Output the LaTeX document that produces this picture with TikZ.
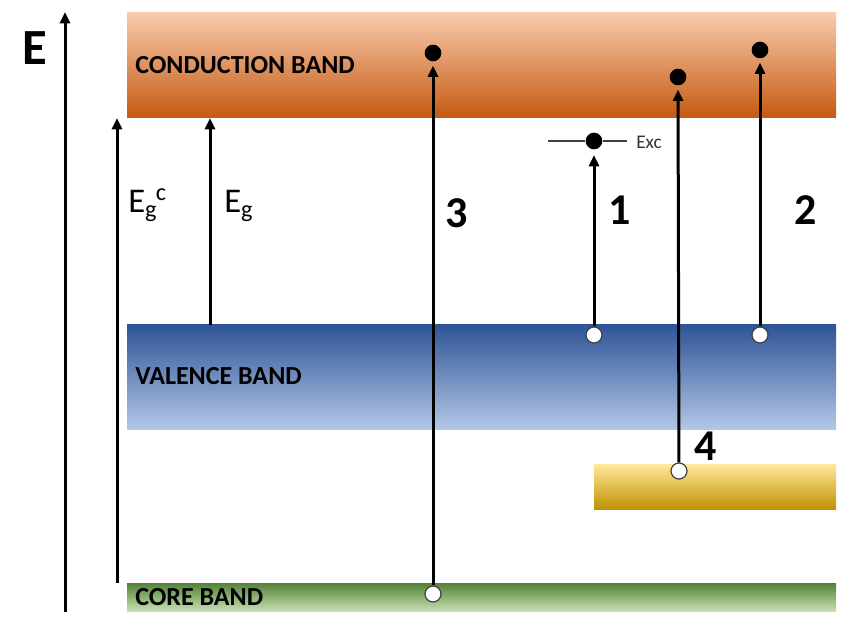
\documentclass[tikz,border=0pt]{standalone}
\usepackage{fontspec}
\setmainfont{Carlito}
\usetikzlibrary{arrows.meta,fit}
\definecolor{cbtop}{HTML}{F8CBAD}
\definecolor{cbmid}{HTML}{F4B183}
\definecolor{cbbot}{HTML}{C55A11}
\definecolor{vbtop}{HTML}{2F5597}
\definecolor{vbmid}{HTML}{8FAADC}
\definecolor{vbbot}{HTML}{B4C7E7}
\definecolor{ybtop}{HTML}{FFE699}
\definecolor{ybmid}{HTML}{FFD966}
\definecolor{ybbot}{HTML}{BF9000}
\definecolor{gbtop}{HTML}{548235}
\definecolor{gbmid}{HTML}{A9D18E}
\definecolor{gbbot}{HTML}{C5E0B4}
\begin{document}
\begin{tikzpicture}[x=0.75pt,y=-0.75pt,
  band/.style={inner sep=0pt, draw=none},
  arr/.style={line width=2.25pt, -{Triangle[width=7.5pt,length=8.5pt]}},
  hole/.style={circle, draw=black!75, line width=0.9pt, fill=white, minimum size=12pt, inner sep=0pt},
  elec/.style={circle, fill=black, minimum size=12.5pt, inner sep=0pt},
  bandlabel/.style={font=\fontsize{19.5}{20}\selectfont\bfseries, anchor=base west, inner sep=0pt},
  num/.style={font=\fontsize{33}{34}\selectfont\bfseries, anchor=base, inner sep=0pt},
  eglabel/.style={font=\fontsize{26}{28}\selectfont, anchor=base west, inner sep=0pt},
]
\useasboundingbox (0,0) rectangle (844,624);

% bands
\node[band, fit={(127,13)(836,118)}, top color=cbtop, middle color=cbmid, bottom color=cbbot] (cb) {};
\node[band, fit={(127,325)(836,430)}, top color=vbtop, middle color=vbmid, bottom color=vbbot] (vb) {};
\node[band, fit={(594,465)(836,510)}, top color=ybtop, middle color=ybmid, bottom color=ybbot] (yb) {};
\node[band, fit={(127,583)(836,611)}, top color=gbtop, middle color=gbmid, bottom color=gbbot] (core) {};

% band labels
\node[bandlabel] (cbl) at (135,74) {CONDUCTION BAND};
\node[bandlabel] (vbl) at (135,385) {VALENCE BAND};
\node[bandlabel] (corel) at (135,605) {CORE BAND};

% energy axis
\coordinate (ebot) at (65,612);
\coordinate (etop) at (65,12);
\draw[arr] (ebot) -- (etop);
\node[font=\fontsize{38}{40}\selectfont\bfseries, anchor=base west, inner sep=0pt] (elab) at (22,65) {E};

% gap arrows
\coordinate (egcbot) at (117,583);
\coordinate (egctop) at (117,118);
\draw[arr] (egcbot) -- (egctop);
\coordinate (egbot) at (210,325);
\coordinate (egtop) at (210,118);
\draw[arr] (egbot) -- (egtop);
\node[eglabel] (egcl) at (128,213) {E\textsubscript{g}\kern-1pt\textsuperscript{c}};
\node[eglabel] (egl) at (224,213) {E\textsubscript{g}};

% electrons and holes
\node[elec] (d3) at (433,53) {};
\node[hole] (h3) at (433,594) {};
\node[elec] (d4) at (678,77) {};
\node[hole] (h4) at (679,471) {};
\node[elec] (d2) at (760,50) {};
\node[hole] (h2) at (760,335) {};
\node[elec] (dx) at (594,141) {};
\node[hole] (h1) at (594,335) {};

% exciton level
\coordinate (excl) at (548,141);
\coordinate (excr) at (627,141);
\draw[line width=0.9pt, black!75] (excl) -- (dx) -- (excr);
\node[font=\fontsize{14.5}{16}\selectfont, anchor=base west, inner sep=0pt, text=black!80] (exc) at (636,149) {Exc};

% transitions
\draw[arr, shorten >=3pt] (h3) -- (d3);
\draw[arr, shorten >=3pt] (h4) -- (d4);
\draw[arr, shorten >=3pt] (h2) -- (d2);
\draw[arr, shorten >=4pt] (h1) -- (dx);

% numbers
\node[num] (n3) at (457,228) {3};
\node[num] (n1) at (620,225) {1};
\node[num] (n2) at (806,225) {2};
\node[num] (n4) at (706,460) {4};
\end{tikzpicture}
\end{document}
